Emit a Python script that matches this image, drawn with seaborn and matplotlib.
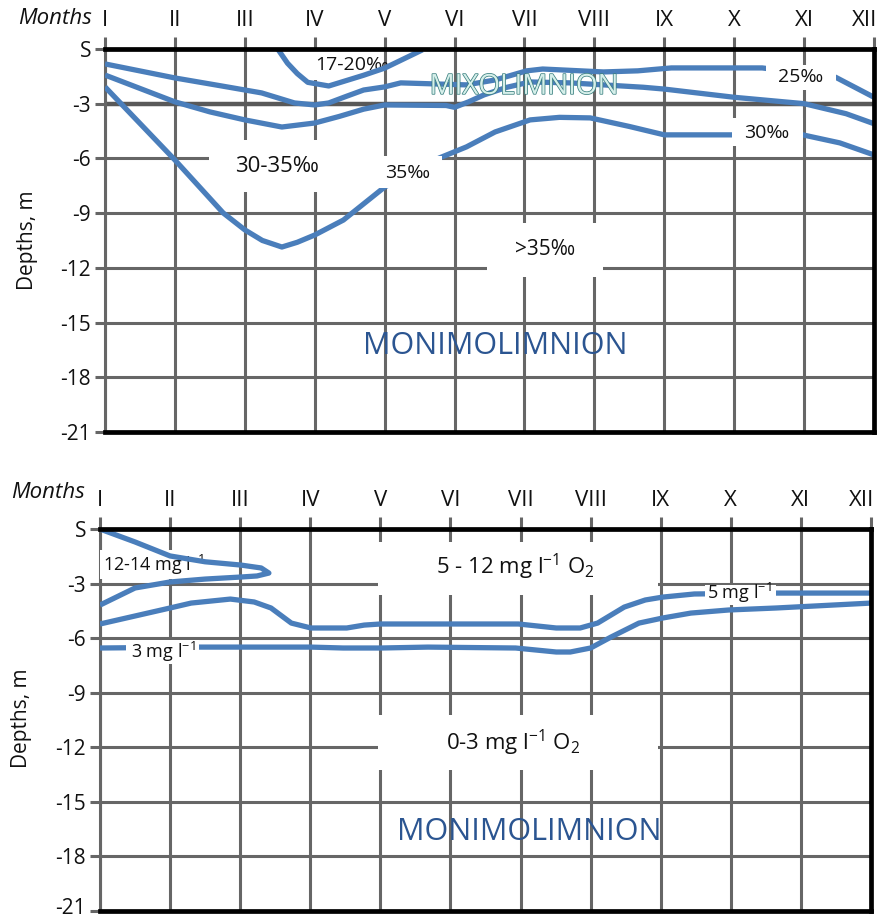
import numpy as np
import pandas as pd
import matplotlib
matplotlib.use("Agg")
import matplotlib.pyplot as plt
import matplotlib.patheffects as pe
import matplotlib.transforms as mtransforms
from matplotlib.patches import Rectangle
import seaborn as sns

# ---------------- data ----------------
months = ["I", "II", "III", "IV", "V", "VI", "VII", "VIII", "IX", "X", "XI", "XII"]
month_pos = list(range(1, 13))
depth_ticks = [0, -3, -6, -9, -12, -15, -18, -21]
depth_labels = ["S", "-3", "-6", "-9", "-12", "-15", "-18", "-21"]

# Salinity isolines (top panel): month position, depth (m)
sal_17_20_m = [3.47, 3.61, 3.75, 3.9, 4.2, 4.7, 5.0, 5.54]
sal_17_20_d = [0.0, -0.78, -1.35, -1.83, -2.03, -1.44, -1.05, -0.05]

sal_25_m = [1, 2, 2.7, 3.24, 3.71, 4, 4.2, 4.45, 4.7, 5, 5.23, 6.17, 6.58, 7.03, 7.26, 8.13,
            8.62, 9.1, 10.4, 11.45, 12]
sal_25_d = [-0.82, -1.59, -2.05, -2.41, -2.96, -3.07, -2.96, -2.6, -2.25, -2.08, -1.86, -1.97,
            -1.7, -1.2, -1.1, -1.26, -1.2, -1.04, -1.04, -1.55, -2.65]

sal_30_m = [1, 2, 2.5, 3, 3.53, 4, 4.35, 4.7, 5, 5.88, 6.0, 6.2, 6.42, 6.75, 7.08, 7.65, 8.7, 9,
            10, 11, 11.6, 12]
sal_30_d = [-1.43, -2.9, -3.45, -3.89, -4.28, -4.06, -3.7, -3.3, -3.07, -3.1, -3.2, -2.9, -2.52,
            -2.1, -1.81, -1.86, -2.1, -2.2, -2.65, -3.0, -3.55, -4.1]

sal_35_m = [1, 2, 2.69, 3, 3.25, 3.53, 3.75, 4, 4.41, 5, 5.78, 6.17, 6.58, 7.08, 7.5, 7.94, 8.5,
            9, 9.97, 10.98, 11.51, 12]
sal_35_d = [-2.08, -6.09, -8.99, -9.92, -10.5, -10.86, -10.6, -10.2, -9.38, -7.57, -5.98, -5.37,
            -4.55, -3.89, -3.75, -3.78, -4.25, -4.71, -4.71, -4.71, -5.15, -5.81]

# Oxygen isolines (bottom panel)
oxy_12_m = [1, 1.5, 2, 2.5, 3.01, 3.3, 3.41, 3.24, 3.0, 2.5, 2, 1.5, 1]
oxy_12_d = [0.0, -0.71, -1.48, -1.8, -1.98, -2.14, -2.42, -2.58, -2.64, -2.75, -2.91, -3.24, -4.18]

oxy_5_m = [1, 2, 2.3, 2.86, 3.2, 3.44, 3.73, 4.01, 4.52, 4.77, 5, 5.68, 6.97, 7.51, 7.85, 8.1,
           8.48, 8.78, 9.03, 9.48, 10.65, 12]
oxy_5_d = [-5.22, -4.34, -4.07, -3.85, -4.01, -4.34, -5.17, -5.44, -5.44, -5.28, -5.22, -5.22,
           -5.22, -5.44, -5.44, -5.17, -4.29, -3.9, -3.74, -3.57, -3.52, -3.52]

oxy_3_m = [1, 2.41, 4.01, 4.47, 5.01, 5.68, 6.93, 7.51, 7.71, 8, 8.29, 8.69, 9.03, 9.43, 9.97,
           10.65, 12]
oxy_3_d = [-6.54, -6.49, -6.49, -6.54, -6.54, -6.49, -6.54, -6.76, -6.76, -6.54, -5.94, -5.17,
           -4.89, -4.62, -4.45, -4.34, -4.07]

# ---------------- style ----------------
BLUE = "#4a7ebb"
GRID = "#666666"
DARK_BLUE = "#2b5591"

sns.set_theme(style="white")
plt.rcParams["font.family"] = ["Open Sans", "DejaVu Sans"]
plt.rcParams["mathtext.fontset"] = "custom"
plt.rcParams["mathtext.rm"] = "Open Sans"
plt.rcParams["mathtext.it"] = "Open Sans:italic"


def curves_frame(pairs):
    rows = []
    for name, (m, d) in pairs.items():
        for i, (mm, dd) in enumerate(zip(m, d)):
            rows.append({"curve": name, "order": i, "month": mm, "depth": dd})
    return pd.DataFrame(rows)


def shift(label, dx_px, dy_px, fig):
    label.set_transform(label.get_transform() +
                        mtransforms.ScaledTranslation(dx_px / 100, dy_px / 100,
                                                      fig.dpi_scale_trans))


def style_axes(ax, lift_bottom=0):
    ax.set_xlim(1, 12)
    ax.set_ylim(-21, 0)
    ax.set_xticks(month_pos)
    ax.set_xticklabels(months)
    ax.set_yticks(depth_ticks)
    ax.set_yticklabels(depth_labels)
    ax.xaxis.tick_top()
    ax.tick_params(axis="x", top=True, bottom=False, length=9, width=2.2, color=GRID,
                   labelsize=16, pad=4, labelcolor="#111111")
    ax.tick_params(axis="y", left=True, length=7, width=2.2, color=GRID,
                   labelsize=15, pad=3, labelcolor="#111111")
    ax.grid(True, color=GRID, lw=2.2)
    ax.set_axisbelow(True)
    for s in ["top", "bottom", "right"]:
        ax.spines[s].set_color("black")
        ax.spines[s].set_linewidth(3.4)
    ax.spines["left"].set_color(GRID)
    ax.spines["left"].set_linewidth(2.2)
    ax.spines["left"].set_zorder(0.6)
    ax.set_xlabel("")
    ax.set_ylabel("")
    # keep the last month label inside the picture
    last = ax.get_xticklabels()[-1]
    last.set_horizontalalignment("right")
    shift(last, 3, 0, ax.figure)
    if lift_bottom:
        shift(ax.get_yticklabels()[-1], 0, lift_bottom, ax.figure)


def box_label(ax, x, y, text, box, z, size, color="#111111"):
    x0, x1, ya, yb = box
    lo, hi = min(ya, yb), max(ya, yb)
    ax.add_patch(Rectangle((x0, lo), x1 - x0, hi - lo, facecolor="white",
                           edgecolor="none", zorder=z))
    ax.text(x, y, text, ha="center", va="center", fontsize=size, color=color,
            zorder=z + 0.1)


fig = plt.figure(figsize=(8.81, 9.22), dpi=100)
ax1 = fig.add_axes([0.1192, 0.5315, 0.8729, 0.4154])
ax2 = fig.add_axes([0.1135, 0.0119, 0.8751, 0.4143])

line_kw = dict(x="month", y="depth", units="curve", estimator=None, sort=False,
               color=BLUE, lw=3.8, zorder=2, legend=False,
               solid_joinstyle="round", solid_capstyle="butt")

# ---------------- top panel: salinity ----------------
top_df = curves_frame({"17-20": (sal_17_20_m, sal_17_20_d),
                       "25": (sal_25_m, sal_25_d),
                       "30": (sal_30_m, sal_30_d),
                       "35": (sal_35_m, sal_35_d)})
sns.lineplot(data=top_df, ax=ax1, **line_kw)
style_axes(ax1)
ax1.axhline(-3, color="#595959", lw=3.2, zorder=0.55)

box_label(ax1, 4.53, -0.88, "17-20‰", (3.8, 4.95, -0.1, -1.7), 1.5, 14)
box_label(ax1, 3.46, -6.47, "30-35‰", (2.49, 4.64, -4.99, -7.84), 1.5, 16)
box_label(ax1, 5.33, -6.8, "35‰", (4.64, 5.82, -5.87, -7.62), 3, 14)
box_label(ax1, 7.29, -11.02, ">35‰", (6.47, 8.12, -9.54, -12.5), 1.5, 15)
box_label(ax1, 10.95, -1.54, "25‰", (10.45, 11.45, -0.88, -2.25), 3, 14)
box_label(ax1, 10.47, -4.6, "30‰", (9.97, 10.98, -3.78, -5.32), 3, 14)
ax1.text(7.0, -2.08, "MIXOLIMNION", ha="center", va="center", fontsize=20,
         color="#d6efea", zorder=4,
         path_effects=[pe.withStroke(linewidth=1.1, foreground="#3a8080")])
ax1.text(6.58, -16.3, "MONIMOLIMNION", ha="center", va="center", fontsize=22,
         color=DARK_BLUE, zorder=4)

# ---------------- bottom panel: oxygen ----------------
bot_df = curves_frame({"12-14": (oxy_12_m, oxy_12_d),
                       "5": (oxy_5_m, oxy_5_d),
                       "3": (oxy_3_m, oxy_3_d)})
sns.lineplot(data=bot_df, ax=ax2, **line_kw)
style_axes(ax2, lift_bottom=5)

box_label(ax2, 1.77, -1.98, r"12-14 mg l$^{\mathregular{-1}}$", (1.0, 2.56, -1.15, -2.75), 1.5, 13)
box_label(ax2, 6.93, -2.09, r"5 - 12 mg l$^{\mathregular{-1}}$ O$_{\mathregular{2}}$",
          (4.97, 8.96, -0.71, -3.63), 1.5, 16)
box_label(ax2, 10.12, -3.52, r"5 mg l$^{\mathregular{-1}}$", (9.63, 10.65, -3.1, -4.15), 3, 13)
box_label(ax2, 1.9, -6.76, r"3 mg l$^{\mathregular{-1}}$", (1.375, 2.41, -6.1, -7.42), 3, 13)
box_label(ax2, 6.89, -11.76, r"0-3 mg l$^{\mathregular{-1}}$ O$_{\mathregular{2}}$",
          (4.97, 8.96, -10.2, -13.25), 1.5, 16)
ax2.text(7.12, -16.66, "MONIMOLIMNION", ha="center", va="center", fontsize=22,
         color=DARK_BLUE, zorder=4)

# ---------------- outer texts ----------------
fig.text(55 / 881, 1 - 19 / 922, "Months", ha="center", va="center", fontsize=16,
         style="italic", color="#111111")
fig.text(48 / 881, 1 - 492 / 922, "Months", ha="center", va="center", fontsize=16,
         style="italic", color="#111111")
fig.text(28 / 881, 1 - 240 / 922, "Depths, m", ha="center", va="center", fontsize=15,
         rotation=90, color="#111111")
fig.text(22 / 881, 1 - 718 / 922, "Depths, m", ha="center", va="center", fontsize=15,
         rotation=90, color="#111111")

fig.savefig("out.png", dpi=100, facecolor="white")
